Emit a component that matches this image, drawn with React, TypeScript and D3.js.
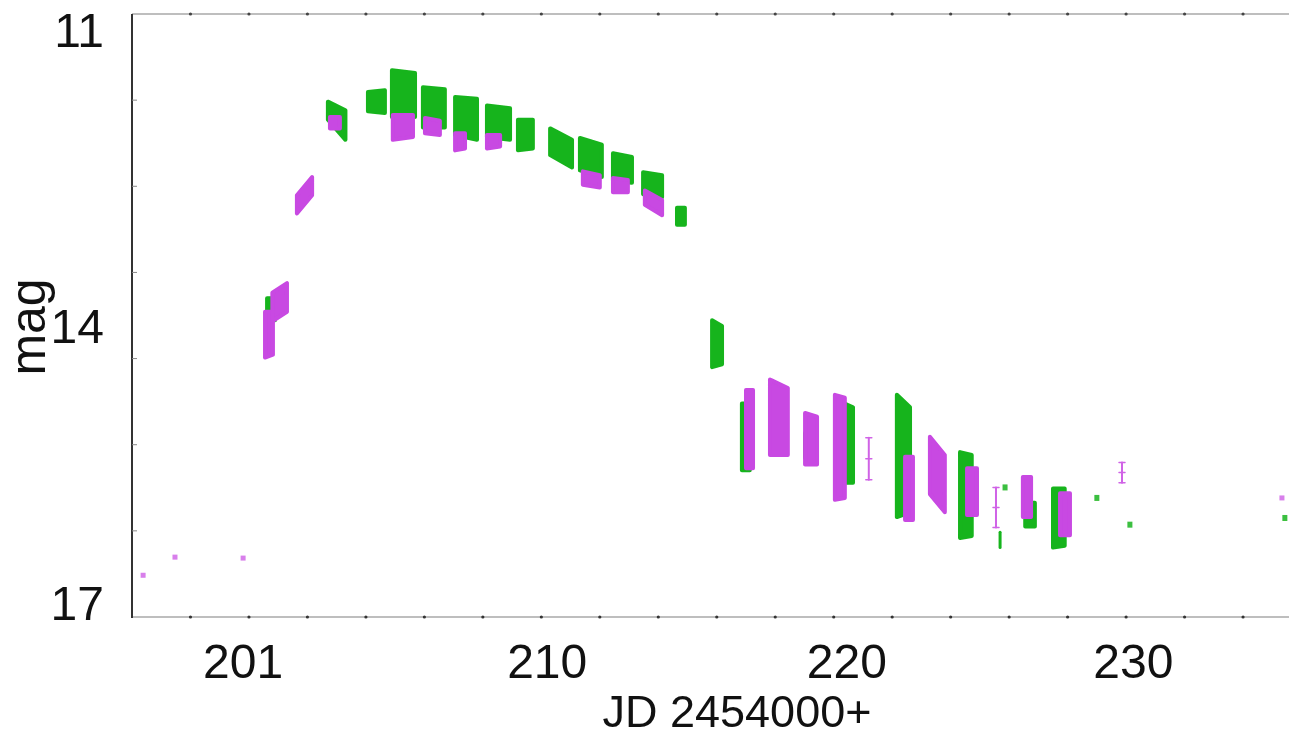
import React from "react";
import * as d3 from "d3";

// ---- data (JD - 2454000, magnitude) ----
// bands: [tStart, tEnd, topAtStart, bottomAtStart, topAtEnd, bottomAtEnd]
const magentaBands: number[][] = [
  [200.55, 200.82, 13.95, 14.43, 13.95, 14.40],
  [200.80, 201.30, 13.75, 14.05, 13.65, 13.95],
  [201.64, 202.16, 12.73, 12.92, 12.54, 12.73],
  [202.77, 203.11, 11.91, 12.03, 11.91, 12.03],
  [204.92, 205.61, 11.89, 12.15, 11.89, 12.12],
  [206.02, 206.53, 11.92, 12.08, 11.95, 12.10],
  [207.05, 207.39, 12.08, 12.26, 12.08, 12.24],
  [208.14, 208.59, 12.10, 12.24, 12.10, 12.22],
  [211.42, 212.00, 12.48, 12.62, 12.52, 12.65],
  [212.45, 212.96, 12.55, 12.70, 12.57, 12.70],
  [213.54, 214.13, 12.68, 12.83, 12.78, 12.94],
  [217.00, 217.24, 14.77, 15.59, 14.77, 15.59],
  [217.82, 218.43, 14.66, 15.45, 14.75, 15.45],
  [219.02, 219.43, 15.01, 15.55, 15.05, 15.55],
  [220.04, 220.38, 14.82, 15.92, 14.85, 15.90],
  [222.44, 222.71, 15.47, 16.13, 15.47, 16.13],
  [223.29, 223.80, 15.26, 15.86, 15.45, 16.05],
  [224.56, 224.90, 15.59, 16.08, 15.59, 16.08],
  [226.47, 226.75, 15.68, 16.10, 15.68, 16.10],
  [227.74, 228.08, 15.85, 16.29, 15.85, 16.29],
];

const greenBands: number[][] = [
  [200.62, 200.89, 13.81, 14.04, 13.81, 14.04],
  [202.70, 203.30, 11.75, 11.94, 11.84, 12.15],
  [204.07, 204.65, 11.65, 11.85, 11.63, 11.87],
  [204.89, 205.68, 11.42, 11.91, 11.45, 11.91],
  [205.95, 206.70, 11.60, 12.02, 11.62, 12.02],
  [207.05, 207.80, 11.70, 12.10, 11.72, 12.15],
  [208.14, 208.93, 11.79, 12.12, 11.82, 12.15],
  [209.20, 209.71, 11.94, 12.26, 11.94, 12.24],
  [210.30, 211.05, 12.03, 12.31, 12.15, 12.44],
  [211.32, 212.07, 12.13, 12.47, 12.20, 12.54],
  [212.45, 213.10, 12.29, 12.58, 12.33, 12.60],
  [213.48, 214.13, 12.49, 12.72, 12.52, 12.75],
  [214.64, 214.91, 12.86, 13.04, 12.86, 13.04],
  [215.84, 216.18, 14.04, 14.53, 14.10, 14.50],
  [216.86, 217.13, 14.91, 15.61, 14.91, 15.61],
  [219.02, 219.19, 15.22, 15.48, 15.22, 15.48],
  [220.28, 220.66, 14.90, 15.74, 14.95, 15.74],
  [222.16, 222.61, 14.82, 16.10, 14.95, 16.05],
  [224.32, 224.72, 15.42, 16.32, 15.45, 16.30],
  [226.55, 226.88, 15.95, 16.20, 15.95, 16.20],
  [227.50, 227.90, 15.80, 16.42, 15.80, 16.40],
];

// sparse nights: [t, top, bottom]
const magentaSparse: number[][] = [
  [221.20, 15.27, 15.71],
  [225.55, 15.79, 16.21],
  [229.86, 15.53, 15.74],
];
const greenSparse: number[][] = [
  [225.69, 16.26, 16.42],
];

const magentaPoints: number[][] = [
  [196.38, 16.71],
  [197.47, 16.52],
  [199.80, 16.53],
  [235.33, 15.90],
];
const greenPoints: number[][] = [
  [225.86, 15.79],
  [229.00, 15.90],
  [230.13, 16.18],
  [235.43, 16.11],
];

const xLabelPos = [199.8, 210.2, 220.45, 230.25];
const xLabels = ["201", "210", "220", "230"];
const yLabelPos = [11, 14.1, 17];
const yLabels = ["11", "14", "17"];

const MAGENTA = "#c848e2";
const GREEN = "#16b41c";

const W = 1289;
const H = 737;
const left = 132;
const right = 1291;
const top = 14;
const bottom = 617;

export default function App() {
  const x = d3.scaleLinear().domain([196, 235.64]).range([left, right]);
  const y = d3.scaleLinear().domain([10.832, 17.147]).range([top, bottom]);

  const bandPath = (b: number[]) =>
    `M${x(b[0])},${y(b[2])}L${x(b[1])},${y(b[4])}L${x(b[1])},${y(b[5])}L${x(b[0])},${y(b[3])}Z`;

  const xTicks = d3.range(198, 236, 2);
  const yMinor = d3.range(1, 7).map((i) => 10.832 + (i * (17.147 - 10.832)) / 7);
  const font = "'Liberation Sans', Arial, sans-serif";

  return (
    <svg
      width={W}
      height={H}
      style={{ position: "absolute", left: 0, top: 0, background: "#fff" }}
    >
      <defs>
        <filter id="soft" x="-5%" y="-5%" width="110%" height="110%">
          <feGaussianBlur stdDeviation="0.7" />
        </filter>
      </defs>
      <rect x={0} y={0} width={W} height={H} fill="#fff" />
      {/* frame */}
      <line x1={left} x2={W} y1={top} y2={top} stroke="#a8a8a8" strokeWidth={1.5} />
      <line x1={left} x2={W} y1={bottom} y2={bottom} stroke="#a8a8a8" strokeWidth={1.5} />
      <line x1={left} x2={left} y1={top} y2={bottom + 1} stroke="#333" strokeWidth={2} />
      {xTicks.map((t) => (
        <g key={t}>
          <circle cx={x(t)} cy={bottom} r={1.6} fill="#333" />
          <circle cx={x(t)} cy={top} r={1.6} fill="#444" />
        </g>
      ))}
      {yMinor.map((m, i) => (
        <line key={i} x1={left} x2={left + 5} y1={y(m)} y2={y(m)} stroke="#888" strokeWidth={1} />
      ))}

      {/* data */}
      <g strokeLinejoin="round" strokeLinecap="round" filter="url(#soft)">
        {greenBands.map((b, i) => (
          <path key={"g" + i} d={bandPath(b)} fill={GREEN} stroke={GREEN} strokeWidth={4} />
        ))}
        {magentaBands.map((b, i) => (
          <path key={"m" + i} d={bandPath(b)} fill={MAGENTA} stroke={MAGENTA} strokeWidth={4} />
        ))}
        {magentaSparse.map((s, i) => (
          <g key={"ms" + i} stroke={MAGENTA} opacity={0.85}>
            <line x1={x(s[0])} x2={x(s[0])} y1={y(s[1])} y2={y(s[2])} strokeWidth={2} />
            <line x1={x(s[0]) - 3} x2={x(s[0]) + 3} y1={y(s[1])} y2={y(s[1])} strokeWidth={1.5} />
            <line x1={x(s[0]) - 3} x2={x(s[0]) + 3} y1={y(s[2])} y2={y(s[2])} strokeWidth={1.5} />
            <line x1={x(s[0]) - 3} x2={x(s[0]) + 3} y1={(y(s[1]) + y(s[2])) / 2} y2={(y(s[1]) + y(s[2])) / 2} strokeWidth={1.5} />
          </g>
        ))}
        {greenSparse.map((s, i) => (
          <line key={"gs" + i} x1={x(s[0])} x2={x(s[0])} y1={y(s[1])} y2={y(s[2])} stroke={GREEN} strokeWidth={3} />
        ))}
        {magentaPoints.map((p, i) => (
          <rect key={"mp" + i} x={x(p[0]) - 2.5} y={y(p[1]) - 2.5} width={5} height={5} fill={MAGENTA} opacity={0.7} />
        ))}
        {greenPoints.map((p, i) => (
          <rect key={"gp" + i} x={x(p[0]) - 2.5} y={y(p[1]) - 3} width={5} height={6} fill={GREEN} opacity={0.85} />
        ))}
      </g>

      {/* labels */}
      {yLabels.map((l, i) => (
        <text
          key={l}
          x={104}
          y={y(yLabelPos[i])}
          dy="0.36em"
          textAnchor="end"
          fontFamily={font}
          fontSize={48}
          fill="#111"
        >
          {l}
        </text>
      ))}
      {xLabels.map((l, i) => (
        <text
          key={l}
          x={x(xLabelPos[i])}
          y={678}
          textAnchor="middle"
          fontFamily={font}
          fontSize={48}
          fill="#111"
        >
          {l}
        </text>
      ))}
      <text x={737} y={727} textAnchor="middle" fontFamily={font} fontSize={45} fill="#111">
        JD 2454000+
      </text>
      <text
        transform="translate(45,327) rotate(-90)"
        textAnchor="middle"
        fontFamily={font}
        fontSize={50}
        fill="#111"
      >
        mag
      </text>
    </svg>
  );
}
